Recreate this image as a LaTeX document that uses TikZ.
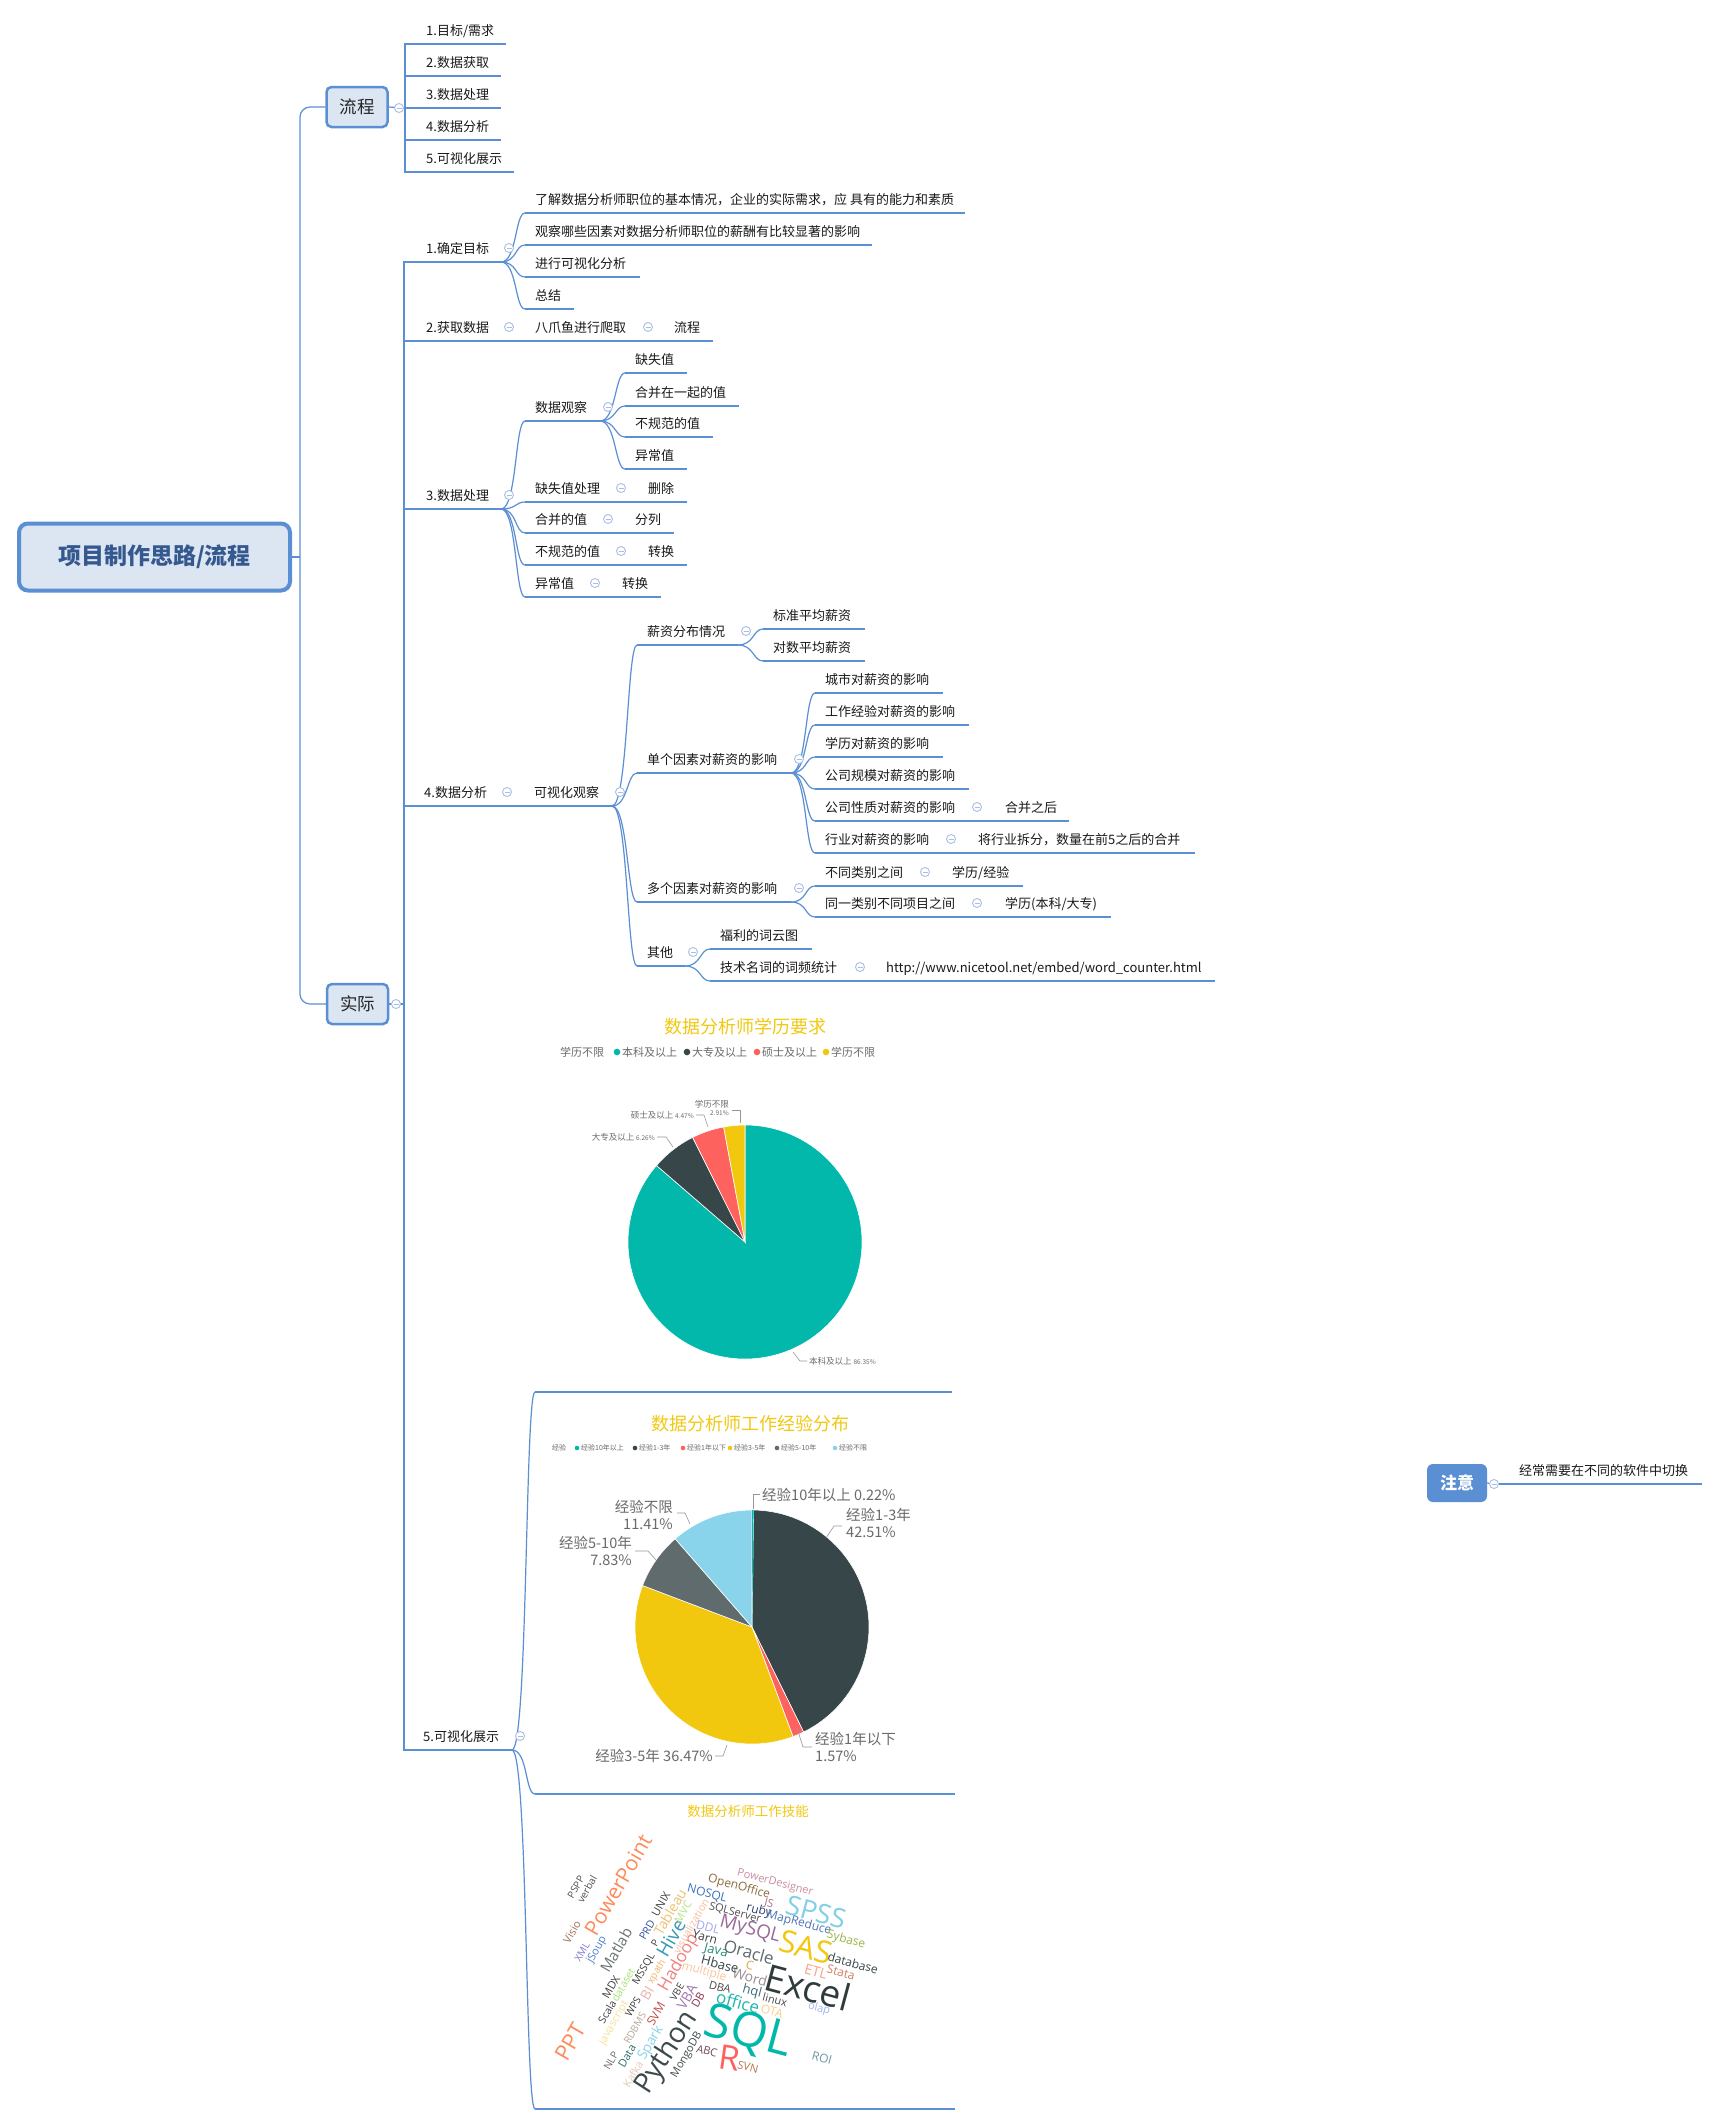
\documentclass[tikz,border=0pt]{standalone}
\usepackage{fontspec}
\setmainfont{Noto Sans CJK SC}
\newfontfamily\wcf{Open Sans}
\usetikzlibrary{calc}
\definecolor{lnblue}{HTML}{5B8FD4}
\definecolor{boxfill}{HTML}{DCE6F2}
\definecolor{roottext}{HTML}{35588F}
\definecolor{collc}{HTML}{A9BEE5}
\definecolor{pbteal}{HTML}{01B8AA}
\definecolor{pbdark}{HTML}{374649}
\definecolor{pbred}{HTML}{FD625E}
\definecolor{pbyellow}{HTML}{F2C80F}
\definecolor{pbgray}{HTML}{5F6B6D}
\definecolor{pbblue}{HTML}{8AD4EB}
\definecolor{titley}{HTML}{F2C811}
\definecolor{lblgray}{HTML}{6A6A6A}
\tikzset{
  conn/.style={draw=lnblue, line width=1.2pt},
  uline/.style={draw=lnblue, line width=2.8pt},
  txt/.style={anchor=base west, inner sep=0pt, font=\fontsize{13}{15}\selectfont, text=black!90},
  coll/.style={circle, draw=collc, fill=white, line width=0.9pt, minimum size=9pt, inner sep=0pt,
    path picture={\draw[collc, line width=0.9pt] ([xshift=-2.5pt]path picture bounding box.center) -- ([xshift=2.5pt]path picture bounding box.center);}},
  rootbox/.style={rectangle, rounded corners=9pt, draw=lnblue, line width=4pt, fill=boxfill,
    minimum width=271pt, minimum height=67pt, inner sep=0pt, font=\bfseries\fontsize{23}{23}\selectfont, text=roottext},
  secbox/.style={rectangle, rounded corners=5pt, draw=lnblue, line width=2.5pt, fill=boxfill,
    minimum width=61pt, minimum height=40pt, inner sep=0pt, font=\fontsize{17.5}{17.5}\selectfont, text=black!85},
  notebox/.style={rectangle, rounded corners=6pt, fill=lnblue, minimum width=60pt, minimum height=38pt,
    inner sep=0pt, font=\bfseries\fontsize{17}{17}\selectfont, text=white},
  pl1/.style={inner sep=0pt, font=\fontsize{8.5}{10}\selectfont, text=lblgray},
  pl2/.style={inner sep=0pt, font=\fontsize{14.5}{16.5}\selectfont, text=lblgray},
  lg1/.style={anchor=west, inner sep=0pt, font=\fontsize{11}{11}\selectfont, text=lblgray},
  lg2/.style={anchor=west, inner sep=0pt, font=\fontsize{7}{7}\selectfont, text=lblgray},
  lead/.style={draw=lblgray!70, line width=0.6pt},
  slice/.style={draw=white, line width=0.6pt},
}
\newcommand\tp[5]{%
  \coordinate (#1s) at (#2,#4);
  \coordinate (#1e) at (#3,#4);
  \draw[uline] (#1s) -- (#1e);
  \node[txt] (#1) at (#2+10,#4-9) {#5};}
\newcommand\cl[1]{\node[coll] (#1c) at ($(#1e)+(8,-14)$) {};}
\newcommand\br[2]{\draw[conn] (#1e) .. controls +(16,0) and +(-10,0) .. (#2s);}
\newcommand\st[2]{\draw[conn] (#1e) -- (#2s);}
\newcommand\wc[7]{\definecolor{wctmp}{HTML}{#5}\node[inner sep=0pt, rotate=#3, text=wctmp, font=\wcf\fontsize{#4}{#4}\selectfont] (#7) at (#1,#2) {#6};}
\begin{document}
\begin{tikzpicture}[x=1pt,y=-1pt]
\useasboundingbox (0,0) rectangle (1719,2126);
\fill[white] (0,0) rectangle (1719,2126);

% ---------- root and sections ----------
\node[rootbox] (root) at (154.5,557) {项目制作思路/流程};
\node[secbox] (liucheng) at (357,107) {流程};
\node[secbox] (shiji) at (357.5,1004) {实际};
\coordinate (rj) at (300,557);
\draw[conn] (root.east) -- (rj);
\draw[conn, rounded corners=10pt] (liucheng.west) -| (rj) |- (shiji.west);

% ---------- 流程 ----------
\coordinate (lj) at (405,108);
\tp{f1}{416}{506}{44}{1.目标/需求}
\tp{f2}{416}{501}{76}{2.数据获取}
\tp{f3}{416}{501}{108}{3.数据处理}
\tp{f4}{416}{501}{140}{4.数据分析}
\tp{f5}{416}{514}{172}{5.可视化展示}
\draw[conn] (liucheng.east) -- (lj);
\draw[conn] (lj) |- (f1s);
\draw[conn] (lj) |- (f2s);
\draw[conn] (lj) |- (f3s);
\draw[conn] (lj) |- (f4s);
\draw[conn] (lj) |- (f5s);
\node[coll] (liuchengc) at (399,108) {};

% ---------- 实际 ----------
\coordinate (sj) at (404,1004);
\tp{a1}{416}{501}{262}{1.确定目标}
\tp{a11}{525}{965}{213}{了解数据分析师职位的基本情况，企业的实际需求，应 具有的能力和素质}
\tp{a12}{525}{872}{245}{观察哪些因素对数据分析师职位的薪酬有比较显著的影响}
\tp{a13}{525}{640}{277}{进行可视化分析}
\tp{a14}{525}{574}{309}{总结}
\tp{a2}{416}{501}{341}{2.获取数据}
\tp{a21}{525}{640}{341}{八爪鱼进行爬取}
\tp{a211}{664}{713}{341}{流程}
\tp{a3}{416}{501}{509}{3.数据处理}
\tp{a31}{525}{600}{421}{数据观察}
\tp{a311}{625}{687}{373}{缺失值}
\tp{a312}{625}{739}{406}{合并在一起的值}
\tp{a313}{625}{713}{437}{不规范的值}
\tp{a314}{625}{687}{469}{异常值}
\tp{a32}{525}{613}{502}{缺失值处理}
\tp{a321}{638}{687}{502}{删除}
\tp{a33}{525}{600}{533}{合并的值}
\tp{a331}{625}{674}{533}{分列}
\tp{a34}{525}{613}{565}{不规范的值}
\tp{a341}{638}{687}{565}{转换}
\tp{a35}{525}{587}{597}{异常值}
\tp{a351}{612}{661}{597}{转换}
\tp{a4}{414}{499}{806}{4.数据分析}
\tp{a41}{524}{612}{806}{可视化观察}
\tp{b1}{637}{738}{645}{薪资分布情况}
\tp{b11}{763}{865}{629}{标准平均薪资}
\tp{b12}{763}{865}{661}{对数平均薪资}
\tp{b2}{637}{791}{773}{单个因素对薪资的影响}
\tp{b21}{815}{943}{693}{城市对薪资的影响}
\tp{b22}{815}{969}{725}{工作经验对薪资的影响}
\tp{b23}{815}{943}{757}{学历对薪资的影响}
\tp{b24}{815}{969}{789}{公司规模对薪资的影响}
\tp{b25}{815}{969}{821}{公司性质对薪资的影响}
\tp{b251}{995}{1069}{821}{合并之后}
\tp{b26}{815}{943}{853}{行业对薪资的影响}
\tp{b261}{968}{1195}{853}{将行业拆分，数量在前5之后的合并}
\tp{b3}{637}{791}{902}{多个因素对薪资的影响}
\tp{b31}{815}{917}{886}{不同类别之间}
\tp{b311}{942}{1023}{886}{学历/经验}
\tp{b32}{815}{969}{917}{同一类别不同项目之间}
\tp{b321}{995}{1111}{917}{学历(本科/大专)}
\tp{b4}{637}{685}{966}{其他}
\tp{b41}{710}{812}{949}{福利的词云图}
\tp{b42}{710}{852}{981}{技术名词的词频统计}
\tp{b421}{876}{1215}{981}{http://www.nicetool.net/embed/word\_counter.html}
\tp{a5}{413}{512}{1750}{5.可视化展示}
\coordinate (im1s) at (535,1392); \coordinate (im1e) at (952,1392);
\coordinate (im2s) at (535,1794); \coordinate (im2e) at (955,1794);
\coordinate (im3s) at (535,2109); \coordinate (im3e) at (955,2109);
\draw[uline] (im1s) -- (im1e);
\draw[uline] (im2s) -- (im2e);
\draw[uline] (im3s) -- (im3e);

\draw[conn] (shiji.east) -- (sj);
\draw[conn] (sj) |- (a1s);
\draw[conn] (sj) |- (a2s);
\draw[conn] (sj) |- (a3s);
\draw[conn] (sj) |- (a4s);
\draw[conn] (sj) |- (a5s);
\node[coll] (shijic) at (396,1004) {};

\br{a1}{a11} \br{a1}{a12} \br{a1}{a13} \br{a1}{a14}
\st{a2}{a21} \st{a21}{a211}
\br{a3}{a31} \br{a3}{a32} \br{a3}{a33} \br{a3}{a34} \br{a3}{a35}
\br{a31}{a311} \br{a31}{a312} \br{a31}{a313} \br{a31}{a314}
\st{a32}{a321} \st{a33}{a331} \st{a34}{a341} \st{a35}{a351}
\st{a4}{a41}
\br{a41}{b1} \br{a41}{b2} \br{a41}{b3} \br{a41}{b4}
\br{b1}{b11} \br{b1}{b12}
\br{b2}{b21} \br{b2}{b22} \br{b2}{b23} \br{b2}{b24} \br{b2}{b25} \br{b2}{b26}
\st{b25}{b251} \st{b26}{b261}
\br{b3}{b31} \br{b3}{b32}
\st{b31}{b311} \st{b32}{b321}
\br{b4}{b41} \br{b4}{b42}
\st{b42}{b421}
\br{a5}{im1} \br{a5}{im2} \br{a5}{im3}

\cl{a1} \cl{a2} \cl{a21} \cl{a3} \cl{a31} \cl{a32} \cl{a33} \cl{a34} \cl{a35}
\cl{a4} \cl{a41} \cl{b1} \cl{b2} \cl{b25} \cl{b26} \cl{b3} \cl{b31} \cl{b32}
\cl{b4} \cl{b42} \cl{a5}

% ---------- 注意 ----------
\node[notebox] (zhuyi) at (1457,1483) {注意};
\tp{z1}{1509}{1702}{1484}{经常需要在不同的软件中切换}
\node[coll] (zhuyic) at (1494,1484) {};
\draw[conn] (zhuyi.east) -- (zhuyic);
\draw[conn] (zhuyic) -- (z1s);

% ---------- pie 1 ----------
\node[font=\fontsize{18}{18}\selectfont, text=titley, inner sep=0pt] (t1) at (745,1027) {数据分析师学历要求};
\node[lg1] (l1a) at (560,1052) {学历不限};
\fill[pbteal] (617,1052) circle (3.3pt);
\node[lg1] (l1b) at (622,1052) {本科及以上};
\fill[pbdark] (687,1052) circle (3.3pt);
\node[lg1] (l1c) at (692,1052) {大专及以上};
\fill[pbred] (757,1052) circle (3.3pt);
\node[lg1] (l1d) at (762,1052) {硕士及以上};
\fill[pbyellow] (826,1052) circle (3.3pt);
\node[lg1] (l1e) at (831,1052) {学历不限};
\begin{scope}[shift={(745pt,-1242pt)},x=1pt,y=1pt]
  \path[slice, fill=pbteal] (0,0) -- (90:117) arc[start angle=90, end angle=-220.86, radius=117pt] -- cycle;
  \path[slice, fill=pbdark] (0,0) -- (139.14:117) arc[start angle=139.14, end angle=116.60, radius=117pt] -- cycle;
  \path[slice, fill=pbred] (0,0) -- (116.60:117) arc[start angle=116.60, end angle=100.51, radius=117pt] -- cycle;
  \path[slice, fill=pbyellow] (0,0) -- (100.51:117) arc[start angle=100.51, end angle=90, radius=117pt] -- cycle;
\end{scope}
\node[pl1, anchor=east, align=right] (p1a) at (729,1108) {学历不限\\[-2pt]{\fontsize{6.5}{7}\selectfont 2.91\%}};
\draw[lead] (732,1110) -- (740,1110) -- (740,1123);
\node[pl1, anchor=east] (p1b) at (694,1115) {硕士及以上 {\fontsize{6.5}{7}\selectfont 4.47\%}};
\draw[lead] (696,1115) -- (704,1115) -- (708,1127);
\node[pl1, anchor=east] (p1c) at (655,1137) {大专及以上 {\fontsize{6.5}{7}\selectfont 6.26\%}};
\draw[lead] (657,1137) -- (666,1137) -- (673,1147);
\node[pl1, anchor=west] (p1d) at (809,1361) {本科及以上 {\fontsize{6.5}{7}\selectfont 86.35\%}};
\draw[lead] (793,1352) -- (800,1361) -- (807,1361);

% ---------- pie 2 ----------
\node[font=\fontsize{18}{18}\selectfont, text=titley, inner sep=0pt] (t2) at (750,1424) {数据分析师工作经验分布};
\node[lg2] (l2a) at (552,1448) {经验};
\fill[pbteal] (577,1448) circle (2.3pt);
\node[lg2] (l2b) at (581,1448) {经验10年以上};
\fill[pbdark] (635,1448) circle (2.3pt);
\node[lg2] (l2c) at (639,1448) {经验1-3年};
\fill[pbred] (683,1448) circle (2.3pt);
\node[lg2] (l2d) at (687,1448) {经验1年以下};
\fill[pbyellow] (730,1448) circle (2.3pt);
\node[lg2] (l2e) at (734,1448) {经验3-5年};
\fill[pbgray] (777,1448) circle (2.3pt);
\node[lg2] (l2f) at (781,1448) {经验5-10年};
\fill[pbblue] (835,1448) circle (2.3pt);
\node[lg2] (l2g) at (839,1448) {经验不限};
\begin{scope}[shift={(752pt,-1627pt)},x=1pt,y=1pt]
  \path[slice, fill=pbdark] (0,0) -- (89.21:117) arc[start angle=89.21, end angle=-63.83, radius=117pt] -- cycle;
  \path[slice, fill=pbred] (0,0) -- (-63.83:117) arc[start angle=-63.83, end angle=-69.48, radius=117pt] -- cycle;
  \path[slice, fill=pbyellow] (0,0) -- (-69.48:117) arc[start angle=-69.48, end angle=-200.77, radius=117pt] -- cycle;
  \path[slice, fill=pbgray] (0,0) -- (159.23:117) arc[start angle=159.23, end angle=131.04, radius=117pt] -- cycle;
  \path[slice, fill=pbblue] (0,0) -- (131.04:117) arc[start angle=131.04, end angle=90, radius=117pt] -- cycle;
  \path[fill=pbteal] (0,0) -- (90:117) arc[start angle=90, end angle=89.21, radius=117pt] -- cycle;
\end{scope}
\node[pl2, anchor=west] (p2a) at (762,1495) {经验10年以上 0.22\%};
\draw[lead] (753,1509) -- (753,1494) -- (760,1494);
\node[pl2, anchor=north west, align=left] (p2b) at (846,1508) {经验1-3年\\42.51\%};
\draw[lead] (826,1538) -- (834,1526) -- (842,1526);
\node[pl2, anchor=north west, align=left] (p2c) at (815,1732) {经验1年以下\\1.57\%};
\draw[lead] (797,1728) -- (803,1747) -- (812,1747);
\node[pl2, anchor=east] (p2d) at (713,1756) {经验3-5年 36.47\%};
\draw[lead] (715,1756) -- (723,1756) -- (727,1745);
\node[pl2, anchor=east, align=right] (p2e) at (632,1551) {经验5-10年\\7.83\%};
\draw[lead] (635,1551) -- (648,1551) -- (656,1560);
\node[pl2, anchor=east, align=right] (p2f) at (673,1515) {经验不限\\11.41\%};
\draw[lead] (677,1513) -- (685,1513) -- (690,1524);

% ---------- word cloud ----------
\node[font=\fontsize{13.5}{13.5}\selectfont, text=titley, inner sep=0pt] (t3) at (748,1811) {数据分析师工作技能};
\wc{618}{1885}{60}{21}{FD8B5A}{PowerPoint}{wPowerPoint}
\wc{570}{2042}{60}{22}{FD8B5A}{PPT}{wPPT}
\wc{667}{2053}{57}{28}{3D4A4C}{Python}{wPython}
\wc{748}{2033}{-15}{48}{01B8AA}{SQL}{wSQL}
\wc{808}{1987}{-15}{37}{2F3B3D}{Excel}{wExcel}
\wc{806}{1947}{-15}{31}{F2C80F}{SAS}{wSAS}
\wc{816}{1912}{-15}{27}{7FD0E8}{SPSS}{wSPSS}
\wc{750}{1930}{-15}{19}{9D6A9A}{MySQL}{wMySQL}
\wc{749}{1952}{-15}{17}{5F6B6D}{Oracle}{wOracle}
\wc{671}{1938}{60}{19}{3599B8}{Hive}{wHive}
\wc{679}{1963}{60}{17}{F08080}{Hadoop}{wHadoop}
\wc{670}{1912}{60}{14}{EDC26F}{Tableau}{wTableau}
\wc{616}{1950}{60}{15}{6B7375}{Matlab}{wMatlab}
\wc{730}{2058}{-8}{34}{FD625E}{R}{wR}
\wc{738}{2002}{-15}{17}{1FB5AE}{office}{woffice}
\wc{750}{1977}{-15}{14}{9C8E95}{Word}{wWord}
\wc{752}{1992}{-15}{13}{3F6C7F}{hql}{whql}
\wc{775}{2000}{-15}{11}{4A4A4A}{linux}{wlinux}
\wc{772}{2011}{-15}{12}{FCD088}{OTA}{wOTA}
\wc{819}{2009}{-15}{11}{A4B5F0}{olap}{wolap}
\wc{822}{2058}{-15}{12}{6F97A3}{ROI}{wROI}
\wc{748}{2067}{-15}{11}{B5784C}{SVN}{wSVN}
\wc{707}{2051}{-15}{11}{6D4B5C}{ABC}{wABC}
\wc{687}{2055}{60}{11}{414B4D}{MongoDB}{wMongoDB}
\wc{651}{2043}{60}{14}{8AD4EB}{Spark}{wSpark}
\wc{627}{2056}{60}{11}{2E6E67}{Data}{wData}
\wc{611}{2061}{60}{10}{6B6B6B}{NLP}{wNLP}
\wc{633}{2074}{60}{11}{E5C9BB}{Kafka}{wKafka}
\wc{656}{2014}{60}{12}{C44B4B}{SVM}{wSVM}
\wc{635}{2028}{60}{10}{B6A89A}{RDBMS}{wRDBMS}
\wc{614}{2023}{60}{11}{F4E29A}{javascript}{wjavascript}
\wc{633}{2007}{60}{10}{3A3A3A}{WPS}{wWPS}
\wc{647}{1993}{60}{14}{E9B3B3}{BI}{wBI}
\wc{657}{1972}{60}{10}{F0B56F}{xpath}{wxpath}
\wc{644}{1969}{60}{10.5}{404040}{MSSQL}{wMSSQL}
\wc{623}{1985}{60}{10.5}{A8E07A}{dataset}{wdataset}
\wc{607}{2012}{60}{10.5}{404040}{Scala}{wScala}
\wc{611}{1987}{60}{11}{404040}{MDX}{wMDX}
\wc{677}{1992}{60}{10}{404040}{VBE}{wVBE}
\wc{687}{1997}{60}{14}{A477B4}{VBA}{wVBA}
\wc{698}{2000}{60}{11}{8A3050}{DB}{wDB}
\wc{655}{1943}{60}{10}{404040}{P}{wP}
\wc{647}{1930}{60}{10.5}{3050A0}{PRD}{wPRD}
\wc{661}{1904}{60}{11}{404040}{UNIX}{wUNIX}
\wc{683}{1912}{60}{11}{B5E38A}{MVC}{wMVC}
\wc{691}{1926}{60}{10.5}{F8BE9C}{visualization}{wvisualization}
\wc{704}{1972}{-15}{12}{FDC59E}{multiple}{wmultiple}
\wc{720}{1964}{-15}{13}{374649}{Hbase}{wHbase}
\wc{716}{1951}{-15}{13}{2C8C7A}{Java}{wJava}
\wc{705}{1937}{-15}{12}{404040}{Yarn}{wYarn}
\wc{708}{1927}{-15}{12}{A6A6F0}{DDL}{wDDL}
\wc{750}{1965}{-15}{12}{E0A43C}{C}{wC}
\wc{720}{1987}{-15}{11}{4A4A4A}{DBA}{wDBA}
\wc{707}{1894}{-15}{12}{3A6FC0}{NOSQL}{wNOSQL}
\wc{739}{1887}{-15}{12}{8B6B3A}{OpenOffice}{wOpenOffice}
\wc{775}{1883}{-15}{11}{C98EA0}{PowerDesigner}{wPowerDesigner}
\wc{769}{1904}{-15}{11}{B07085}{JS}{wJS}
\wc{759}{1911}{-15}{12}{30406E}{ruby}{wruby}
\wc{735}{1913}{-15}{11}{505050}{SQLServer}{wSQLServer}
\wc{799}{1923}{-15}{12}{4E74B5}{MapReduce}{wMapReduce}
\wc{846}{1940}{-15}{12}{9AB548}{Sybase}{wSybase}
\wc{853}{1963}{-15}{12}{374649}{database}{wdatabase}
\wc{841}{1972}{-15}{12}{D0805E}{Stata}{wStata}
\wc{816}{1972}{-15}{14}{F8A286}{ETL}{wETL}
\wc{576}{1887}{60}{10}{505050}{PSPP}{wPSPP}
\wc{587}{1889}{60}{10}{505050}{verbal}{wverbal}
\wc{572}{1932}{60}{11}{A0705F}{Visio}{wVisio}
\wc{582}{1952}{60}{10}{7C7CCB}{XML}{wXML}
\wc{597}{1950}{60}{11}{4C80C8}{jSoup}{wjSoup}
\end{tikzpicture}
\end{document}
